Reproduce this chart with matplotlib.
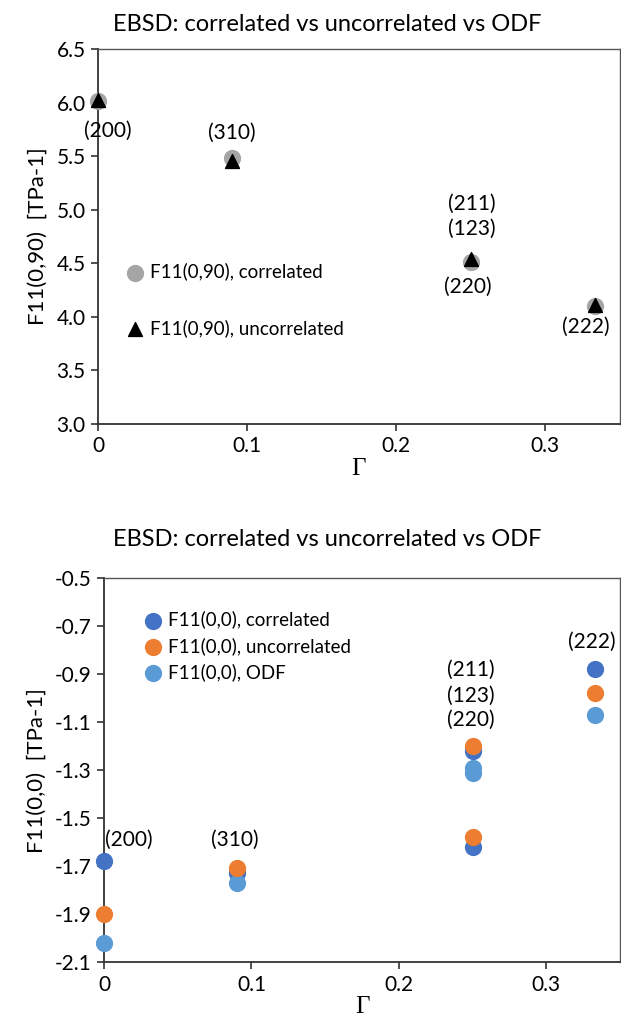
import matplotlib
matplotlib.use("Agg")
from matplotlib import pyplot as plt

plt.rcParams['font.family'] = ['Lato', 'DejaVu Sans']

# Gamma orientation parameter for each reflection
gam_200 = 0.0
gam_310 = 0.09
gam_211 = 0.25
gam_222 = 1 / 3

# ---- F11(0,90) ----
g90 = [gam_200, gam_310, gam_211, gam_222]
f90_corr = [6.01, 5.48, 4.51, 4.10]
f90_uncorr = [6.02, 5.45, 4.54, 4.11]

# ---- F11(0,0) ----
g00_corr = [gam_200, gam_310, gam_211, gam_211, gam_222]
f00_corr = [-1.68, -1.73, -1.22, -1.62, -0.88]
g00_uncorr = [gam_200, gam_310, gam_211, gam_211, gam_222]
f00_uncorr = [-1.90, -1.71, -1.20, -1.58, -0.98]
g00_odf = [gam_200, gam_310, gam_211, gam_211, gam_222]
f00_odf = [-2.02, -1.77, -1.29, -1.31, -1.07]

# reflection labels: (text, x, y)
labels_90 = [("(200)", 0.0065, 5.74), ("(310)", 0.09, 5.72),
             ("(211)", 0.2505, 5.05), ("(123)", 0.2505, 4.82),
             ("(220)", 0.248, 4.28), ("(222)", 0.3275, 3.91)]
labels_00 = [("(200)", 0.0165, -1.59), ("(310)", 0.089, -1.59),
             ("(211)", 0.249, -0.88), ("(123)", 0.249, -0.99),
             ("(220)", 0.249, -1.09), ("(222)", 0.331, -0.765)]

title = "EBSD: correlated vs uncorrelated vs ODF"

FS = 15


def style_axes(ax):
    for s in ['left', 'bottom']:
        ax.spines[s].set_color('#333333')
        ax.spines[s].set_linewidth(1.3)
    for s in ['top', 'right']:
        ax.spines[s].set_color('#555555')
        ax.spines[s].set_linewidth(1.0)
    ax.tick_params(direction='out', length=5, width=1.2, color='#333333',
                   labelsize=FS, pad=4)
    ax.set_xlim(0, 0.35)
    ax.set_xticks([0, 0.1, 0.2, 0.3])
    ax.set_xticklabels(['0', '0.1', '0.2', '0.3'])
    ax.set_xlabel('Γ', family='Liberation Serif', fontsize=18, labelpad=1)


fig = plt.figure(figsize=(6.21, 10.18), dpi=100)

# top panel
ax1 = fig.add_axes([0.158, 0.5835, 0.840, 0.3684])
style_axes(ax1)
ax1.scatter(g90, f90_corr, s=130, color='#a5a5a5', zorder=3, clip_on=False,
            label='F11(0,90), correlated')
ax1.scatter(g90, f90_uncorr, s=100, marker='^', color='black', zorder=4,
            clip_on=False, label='F11(0,90), uncorrelated')
ax1.set_ylim(3.0, 6.5)
ax1.set_yticks([3.0, 3.5, 4.0, 4.5, 5.0, 5.5, 6.0, 6.5])
ax1.set_yticklabels(['%.1f' % v for v in ax1.get_yticks()])
ax1.set_ylabel('F11(0,90)  [TPa-1]', fontsize=16, labelpad=6)
ax1.set_title(title, fontsize=17, pad=13, x=0.439)
for t, x, y in labels_90:
    ax1.text(x, y, t, ha='center', va='center', fontsize=FS)
ax1.legend(loc='upper left', bbox_to_anchor=(0.02, 0.45), frameon=False,
           fontsize=13.5, handletextpad=-0.2, labelspacing=2.05,
           borderaxespad=0)

# bottom panel
ax2 = fig.add_axes([0.1675, 0.055, 0.831, 0.377])
style_axes(ax2)
ax2.scatter(g00_corr, f00_corr, s=130, color='#4472c4', zorder=3,
            clip_on=False, label='F11(0,0), correlated')
ax2.scatter(g00_uncorr, f00_uncorr, s=130, color='#ed7d31', zorder=4,
            clip_on=False, label='F11(0,0), uncorrelated')
ax2.scatter(g00_odf, f00_odf, s=130, color='#5b9bd5', zorder=3,
            clip_on=False, label='F11(0,0), ODF')
ax2.set_ylim(-2.1, -0.5)
ax2.set_yticks([-2.1, -1.9, -1.7, -1.5, -1.3, -1.1, -0.9, -0.7, -0.5])
ax2.set_yticklabels(['%.1f' % v for v in ax2.get_yticks()])
ax2.set_ylabel('F11(0,0)  [TPa-1]', fontsize=16, labelpad=6)
ax2.set_title(title, fontsize=17, pad=23, x=0.432)
for t, x, y in labels_00:
    ax2.text(x, y, t, ha='center', va='center', fontsize=FS)
ax2.legend(loc='upper left', bbox_to_anchor=(0.045, 0.935), frameon=False,
           fontsize=13.5, handletextpad=-0.2, labelspacing=0.45,
           borderaxespad=0)

fig.savefig('out.png', dpi=100)
